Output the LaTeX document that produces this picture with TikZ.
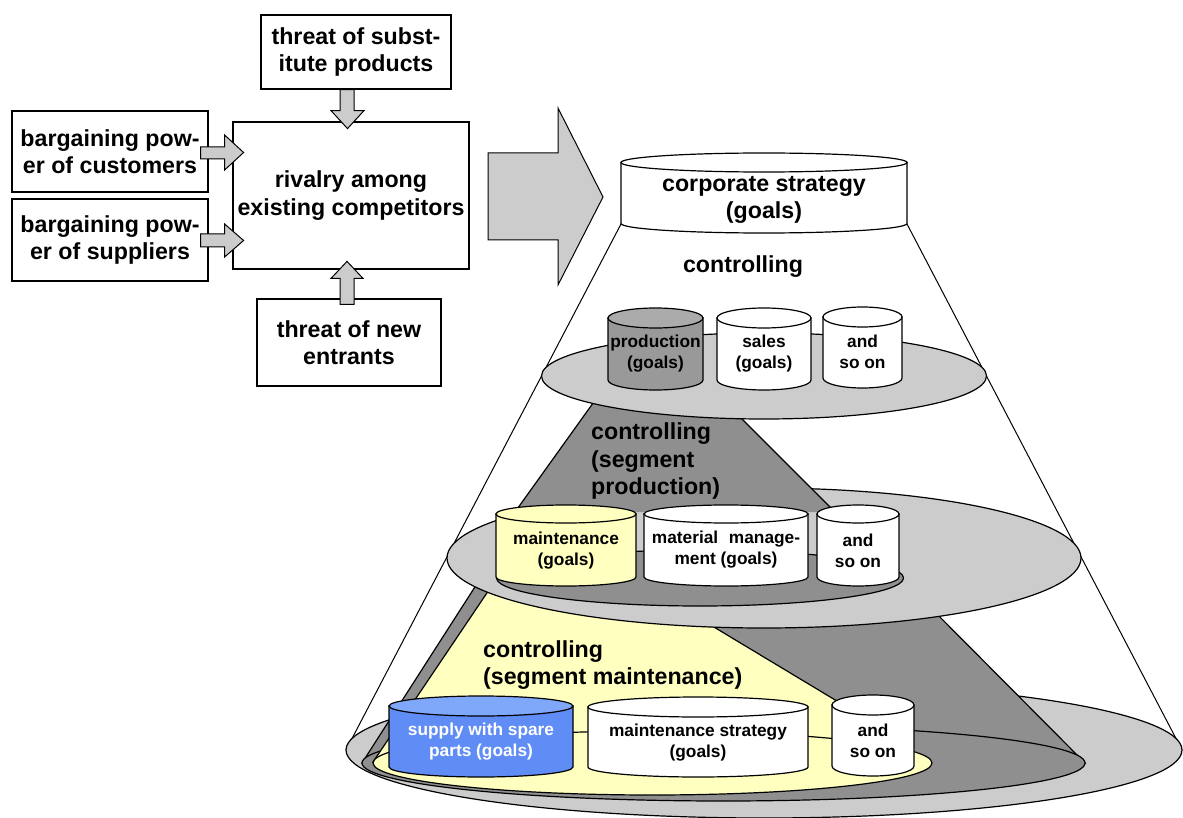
\documentclass[tikz,border=0pt]{standalone}
\usepackage{fontspec}
\setmainfont{Liberation Sans}
\usetikzlibrary{calc}
\definecolor{lgray}{HTML}{CCCCCC}
\definecolor{dgray}{HTML}{8F8F8F}
\definecolor{pgray}{HTML}{999999}
\definecolor{pgraytop}{HTML}{ABABAB}
\definecolor{lyellow}{HTML}{FFFFC0}
\definecolor{mblue}{HTML}{5F8CF5}
\definecolor{lblue}{HTML}{80A8FA}
\definecolor{arrowgray}{HTML}{CCCCCC}
\newcommand{\bigtxt}{\fontsize{23.2}{27.5}\selectfont\bfseries}
\newcommand{\smalltxt}{\fontsize{17.3}{21}\selectfont\bfseries}
% cylinder: #1 cx, #2 half width, #3 y of top ellipse centre, #4 y of bottom ellipse centre, #5 ry, #6 body fill, #7 top fill
\newcommand{\cyl}[7]{%
  \filldraw[cylline, fill=#6] (#1-#2,#3) -- (#1-#2,#4) arc[start angle=180, end angle=360, x radius=#2pt, y radius=#5pt] -- (#1+#2,#3) -- cycle;
  \filldraw[cylline, fill=#7] (#1,#3) ellipse[x radius=#2pt, y radius=#5pt];
}
\begin{document}
\begin{tikzpicture}[x=1pt,y=-1pt,
  box/.style={draw, line width=1.2pt, fill=white, inner sep=0pt, align=center, font=\bigtxt},
  bigtext/.style={inner sep=0pt, align=center, font=\bigtxt},
  smalltext/.style={inner sep=0pt, align=center, font=\smalltxt},
  blockarrow/.style={draw, fill=arrowgray, line width=1pt, line join=miter},
  cylline/.style={draw, line width=1.2pt},
  layer/.style={draw, line width=1.2pt},
  coneline/.style={draw, line width=1pt}]
\useasboundingbox (0,0) rectangle (1183,818);

% ---------- Porter's five forces ----------
\node[box, minimum width=196pt, minimum height=81pt] (cust) at (110,151.5) {bargaining pow-\\er of customers};
\node[box, minimum width=196pt, minimum height=82pt] (supp) at (110,240) {bargaining pow-\\er of suppliers};
\node[box, minimum width=190pt, minimum height=74pt] (subst) at (356,52) {threat of subst-\\itute products};
\node[box, minimum width=236pt, minimum height=147pt] (rival) at (351,195.5) {rivalry among\\existing competitors};
\node[box, minimum width=184pt, minimum height=87pt] (entr) at (349,342.5) {threat of new\\entrants};

\draw[blockarrow] ($(subst.south)+(-16,0)$) -- ++(0,21) -- ++(-9,0) -- ++(16.5,18) -- ++(16.5,-18) -- ++(-10,0) -- ++(0,-21) -- cycle;
\draw[blockarrow] ($(entr.north)+(-9,6)$) -- ++(0,-26) -- ++(-9,0) -- ++(16,-17) -- ++(16,17) -- ++(-9,0) -- ++(0,26) -- cycle;
\draw[blockarrow] ($(cust.east)+(-8,-4.5)$) -- ++(24,0) -- ++(0,-12) -- ++(19,17.5) -- ++(-19,17.5) -- ++(0,-11) -- ++(-24,0) -- cycle;
\draw[blockarrow] ($(supp.east)+(-8,-6)$) -- ++(24,0) -- ++(0,-10) -- ++(19,16.5) -- ++(-19,16.5) -- ++(0,-10) -- ++(-24,0) -- cycle;

% big arrow
\coordinate (bigA) at (488,153);
\draw[blockarrow] (bigA) -- ++(70,0) -- ++(0,-45) -- ++(45,89) -- ++(-45,88) -- ++(0,-45) -- ++(-70,0) -- cycle;

% ---------- cone ----------
\coordinate (coneTL) at (621,224);
\coordinate (coneTR) at (907,224);
\coordinate (coneBL) at (346,750);
\coordinate (coneBR) at (1182,750);
\draw[coneline] (coneTL) -- (coneBL);
\draw[coneline] (coneTR) -- (coneBR);

% layer 3
\filldraw[layer, fill=lgray] (764,750) ellipse[x radius=418pt, y radius=68pt];
\filldraw[layer, fill=dgray] (482.6,575) -- (923,600) -- (1085,763) -- (362,763) -- cycle;
\filldraw[layer, fill=dgray] (723.5,763) ellipse[x radius=361.5pt, y radius=38pt];
\filldraw[layer, fill=lyellow] (497,578) -- (669,600) -- (910,745) -- (373,762) -- cycle;
\filldraw[layer, fill=lyellow] (652.5,763) ellipse[x radius=279.5pt, y radius=32pt];
\cyl{481}{92}{706}{767}{10}{mblue}{lblue}
\cyl{698}{110}{707}{767}{10}{white}{white}
\cyl{873}{41}{705}{766}{10}{white}{white}
\node[smalltext, text=white] (spare) at (481,742) {supply with spare\\parts (goals)};
\node[smalltext] (mstrat) at (698,743) {maintenance strategy\\(goals)};
\node[smalltext] (soon3) at (873,741) {and\\so on};
\node[bigtext, anchor=west, align=left] (ctrl3) at (483,665) {controlling\\(segment maintenance)};

% layer 2
\filldraw[layer, fill=lgray] (764,558) ellipse[x radius=317pt, y radius=70pt];
\fill[dgray] (606,385) -- (720,397) -- (835,512) -- (515,512) -- cycle;
\draw[layer] (606,385) -- (515,512);
\draw[layer] (720,397) -- (835,512);
\filldraw[layer, fill=dgray] (700,578) ellipse[x radius=203.5pt, y radius=28pt];
\cyl{566}{70}{514}{577}{9}{lyellow}{lyellow}
\cyl{726}{82}{514}{577}{9}{white}{white}
\cyl{858}{41}{514}{577}{9}{white}{white}
\node[smalltext] (maint) at (566,551) {maintenance\\(goals)};
\node[smalltext] (matm) at (726,550) {material\hspace{0.62em}manage-\\ment (goals)};
\node[smalltext] (soon2) at (858,551) {and\\so on};
\node[bigtext, anchor=west, align=left] (ctrl2) at (591,461) {controlling\\(segment\\production)};

% layer 1
\filldraw[layer, fill=lgray] (764,376) ellipse[x radius=222.5pt, y radius=43pt];
\cyl{655.5}{47.5}{318}{380}{10}{pgray}{pgraytop}
\cyl{764}{47}{318}{380}{10}{white}{white}
\cyl{862.5}{39.5}{317}{378}{10}{white}{white}
\node[smalltext] (prod) at (655.5,354) {production\\(goals)};
\node[smalltext] (sales) at (764,354) {sales\\(goals)};
\node[smalltext] (soon1) at (862.5,352) {and\\so on};
\node[bigtext] (ctrl1) at (743,267) {controlling};

% corporate strategy
\cyl{764}{143}{162.5}{223.5}{9.5}{white}{white}
\node[bigtext] (corp) at (764,200) {corporate strategy\\(goals)};
\end{tikzpicture}
\end{document}
